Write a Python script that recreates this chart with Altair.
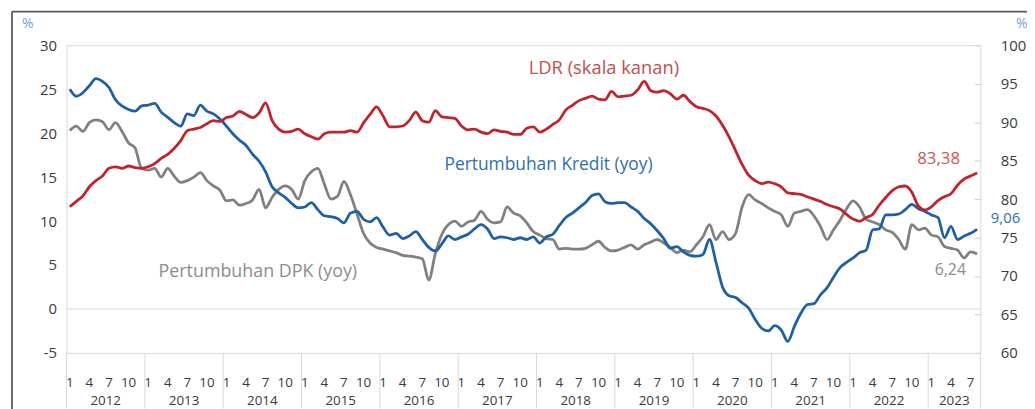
import altair as alt
import pandas as pd

# Monthly series Jan 2012 .. Aug 2023
kredit = [25.0, 24.2, 24.6, 25.4, 26.2, 25.9, 25.2, 23.8, 23.1, 22.7, 22.5, 23.1,
          23.2, 23.4, 22.4, 21.8, 21.2, 20.8, 22.2, 22.0, 23.2, 22.5, 22.2, 21.6,
          20.8, 19.9, 19.2, 18.6, 17.6, 16.8, 15.6, 13.9, 13.2, 12.7, 12.0, 11.5,
          11.6, 12.1, 11.3, 10.6, 10.5, 10.3, 9.8, 10.9, 11.1, 10.2, 9.9, 10.4,
          9.3, 8.4, 8.6, 8.0, 8.3, 8.8, 7.9, 7.0, 6.6, 7.4, 8.3, 7.9,
          8.2, 8.5, 9.1, 9.6, 9.1, 8.0, 8.2, 8.1, 7.9, 8.1, 7.9, 8.2,
          7.5, 8.2, 8.5, 9.5, 10.4, 10.9, 11.5, 12.1, 12.9, 13.1, 12.2, 12.0,
          12.1, 12.1, 11.6, 11.1, 10.3, 9.7, 8.9, 8.0, 6.9, 7.1, 6.5, 6.1,
          6.0, 6.2, 7.9, 5.3, 2.5, 1.5, 1.3, 0.7, 0.1, -1.2, -2.2, -2.5,
          -1.9, -2.4, -3.7, -2.0, -0.5, 0.5, 0.6, 1.6, 2.4, 3.6, 4.7, 5.3,
          5.8, 6.4, 6.7, 9.0, 9.1, 10.7, 10.7, 10.8, 11.3, 11.9, 11.4, 11.1,
          10.7, 10.4, 8.1, 9.4, 7.9, 8.3, 8.6, 9.06]

ldr = [79.0, 79.7, 80.4, 81.6, 82.4, 83.0, 84.0, 84.2, 84.0, 84.3, 84.1, 84.0,
       84.2, 84.6, 85.3, 85.8, 86.6, 87.6, 88.9, 89.1, 89.3, 89.8, 90.2, 90.1,
       90.6, 90.8, 91.4, 91.0, 90.6, 91.2, 92.5, 90.2, 89.1, 88.7, 88.8, 89.1,
       88.5, 88.1, 87.8, 88.5, 88.7, 88.7, 88.7, 88.9, 88.7, 89.9, 91.0, 92.0,
       90.8, 89.4, 89.4, 89.5, 90.2, 91.3, 90.2, 90.0, 91.5, 90.7, 90.6, 90.5,
       89.5, 89.0, 89.1, 88.7, 88.5, 89.0, 88.8, 88.7, 88.4, 88.4, 89.2, 89.4,
       88.7, 89.1, 89.7, 90.3, 91.6, 92.2, 92.8, 93.1, 93.4, 93.0, 92.9, 94.0,
       93.3, 93.4, 93.5, 94.2, 95.3, 94.1, 93.9, 94.1, 93.7, 93.0, 93.5, 92.7,
       92.0, 91.8, 91.5, 90.8, 89.6, 88.1, 86.3, 84.5, 83.1, 82.4, 82.0, 82.2,
       82.0, 81.6, 80.8, 80.7, 80.6, 80.3, 80.0, 79.7, 79.3, 79.0, 78.7, 78.0,
       77.4, 77.1, 77.6, 78.0, 79.2, 80.2, 81.1, 81.6, 81.7, 80.9, 79.1, 78.6,
       79.0, 79.8, 80.3, 80.7, 81.8, 82.6, 83.0, 83.38]

dpk = [20.3, 20.8, 20.2, 21.2, 21.5, 21.3, 20.4, 21.2, 20.2, 18.9, 18.3, 16.0,
       15.8, 16.0, 15.0, 16.0, 15.1, 14.4, 14.6, 15.0, 15.5, 14.6, 14.0, 13.5,
       12.3, 12.4, 11.8, 12.0, 12.4, 13.6, 11.5, 12.7, 13.6, 14.0, 13.6, 12.5,
       14.6, 15.6, 16.0, 14.2, 12.5, 12.8, 14.5, 13.0, 10.8, 8.6, 7.5, 7.0,
       6.8, 6.6, 6.4, 6.1, 6.0, 5.9, 5.7, 3.3, 6.3, 8.5, 9.6, 10.0,
       9.4, 9.9, 10.1, 11.1, 10.2, 9.8, 9.9, 11.6, 10.9, 10.6, 9.8, 8.8,
       8.4, 8.0, 7.9, 6.8, 6.9, 6.8, 6.8, 6.9, 7.3, 7.7, 7.0, 6.6,
       6.7, 7.0, 7.3, 6.8, 7.3, 7.6, 7.9, 7.5, 7.0, 6.4, 6.7, 6.5,
       7.3, 8.2, 9.6, 7.9, 8.8, 7.9, 8.6, 11.6, 13.0, 12.4, 12.0, 11.5,
       11.1, 10.7, 9.4, 10.9, 11.1, 11.3, 10.6, 9.4, 7.9, 9.0, 10.1, 11.4,
       12.3, 11.6, 10.2, 9.9, 9.6, 9.0, 8.7, 7.9, 6.8, 9.6, 9.0, 9.2,
       8.4, 8.2, 7.1, 6.9, 6.7, 5.8, 6.5, 6.24]

years = [2012, 2013, 2014, 2015, 2016, 2017, 2018, 2019, 2020, 2021, 2022, 2023]
month_ticks = [1, 4, 7, 10]
left_ticks = [-5, 0, 5, 10, 15, 20, 25, 30]
right_ticks = [60, 65, 70, 75, 80, 85, 90, 95, 100]

FONT = "Open Sans"
W, H = 921, 310
n = len(kredit)

df = pd.DataFrame({"i": list(range(n)), "kredit": kredit, "dpk": dpk, "ldr": ldr})

mdf = pd.DataFrame([
    {"i": 12 * k + m - 1, "lab": str(m)}
    for k in range(len(years)) for m in month_ticks if 12 * k + m - 1 < n
])
ydf = pd.DataFrame([
    {"i": (12 * k - 0.5 + min(12 * k + 11.5, n - 0.5)) / 2, "lab": str(y)}
    for k, y in enumerate(years)
])
sdf = pd.DataFrame({"i": [12 * k - 0.5 for k in range(len(years))] + [n - 0.5]})

xs = alt.Scale(domain=[-0.5, n - 0.5], nice=False, zero=False)
ls = alt.Scale(domain=[-5, 30], nice=False, zero=False)
rs = alt.Scale(domain=[60, 100], nice=False, zero=False)

left_axis = alt.Axis(orient="left", values=left_ticks, grid=False, ticks=False, domain=False,
                     labelPadding=10, labelFontSize=15, labelColor="#3a3a3a", labelFont=FONT,
                     labelExpr="replace(datum.label, '\u2212', '-')", title=None)
right_axis = alt.Axis(orient="right", values=right_ticks, grid=False, ticks=True, tickSize=6,
                      tickColor="#d0d0d0", offset=-6, domain=False, labelPadding=20,
                      labelFontSize=15, labelColor="#3a3a3a", labelFont=FONT, labelAlign="left",
                      title=None)

X = lambda f: alt.X(f, type="quantitative", scale=xs, axis=None)
YL = lambda f: alt.Y(f, type="quantitative", scale=ls, axis=left_axis)
YR = lambda f: alt.Y(f, type="quantitative", scale=rs, axis=right_axis)

base = alt.Chart(df)

zero = alt.Chart(pd.DataFrame({"v": [0]})).mark_rule(color="#d9d9d9", strokeWidth=1).encode(y=YL("v"))

kline = base.mark_line(color="#1f5fa3", strokeWidth=2.8, interpolate="monotone").encode(x=X("i"), y=YL("kredit"))
dline = base.mark_line(color="#808080", strokeWidth=2.8, interpolate="monotone").encode(x=X("i"), y=YL("dpk"))

def txt(label, xi, yv, color, align, size=17.5, yscale="L"):
    d = pd.DataFrame({"i": [xi], "v": [yv], "t": [label]})
    return alt.Chart(d).mark_text(align=align, baseline="middle", fontSize=size, font=FONT,
                                  color=color).encode(
        x=X("i"), y=(YL("v") if yscale == "L" else YR("v")), text="t:N")

t_kredit = txt("Pertumbuhan Kredit (yoy)", 57.4, 16.34, "#2e6fb0", "left", size=17.5)
t_dpk = txt("Pertumbuhan DPK (yoy)", 13.6, 4.15, "#8c8c8c", "left", size=18)
t_906 = txt("9,06", 141.1, 10.3, "#2e6fb0", "left", size=15)
t_624 = txt("6,24", 137.3, 4.37, "#8c8c8c", "right", size=16)

months = alt.Chart(mdf).mark_text(baseline="middle", align="center", fontSize=13.5, font=FONT,
                                  color="#3a3a3a").encode(x=X("i"), y=alt.value(340), text="lab:N")
yrs = alt.Chart(ydf).mark_text(baseline="middle", align="center", fontSize=13.5, font=FONT,
                               color="#3a3a3a").encode(x=X("i"), y=alt.value(359), text="lab:N")
seps = alt.Chart(sdf).mark_rule(color="#d9d9d9", strokeWidth=1).encode(
    x=X("i"), y=alt.value(H), y2=alt.value(H + 56))

pct_l = alt.Chart(pd.DataFrame({"t": ["%"]})).mark_text(align="left", baseline="middle", fontSize=14,
                                                          font=FONT, color="#6f9fd6").encode(
    x=alt.value(-45), y=alt.value(-21), text="t:N")
pct_r = alt.Chart(pd.DataFrame({"t": ["%"]})).mark_text(align="left", baseline="middle", fontSize=14,
                                                          font=FONT, color="#6f9fd6").encode(
    x=alt.value(957), y=alt.value(-21), text="t:N")
frame_l = alt.Chart(pd.DataFrame({"t": [0]})).mark_rule(color="#5a5a5a", strokeWidth=1.8).encode(
    x=alt.value(-55), y=alt.value(-34), y2=alt.value(H + 60))
frame_t = alt.Chart(pd.DataFrame({"t": [0]})).mark_rule(color="#5a5a5a", strokeWidth=1.8).encode(
    x=alt.value(-55), x2=alt.value(990), y=alt.value(-34))

left = alt.layer(zero, dline, kline, t_kredit, t_dpk, t_906, t_624, months, yrs, seps,
                 pct_l, pct_r, frame_l, frame_t)

rline = base.mark_line(color="#c0232e", strokeWidth=2.8, interpolate="monotone").encode(x=X("i"), y=YR("ldr"))
t_ldr = txt("LDR (skala kanan)", 70.3, 97.0, "#c0504d", "left", size=18.5, yscale="R")
t_8338 = txt("83,38", 136.4, 85.16, "#c9575a", "right", size=17, yscale="R")
right = alt.layer(rline, t_ldr, t_8338)

chart = alt.layer(left, right).resolve_scale(y="independent").properties(
    width=W, height=H,
    autosize=alt.AutoSizeParams(type="none"),
    padding={"left": 59, "top": 36, "right": 47, "bottom": 55},
).configure_view(stroke="#d9d9d9", strokeWidth=1)

chart.save("out.html", embed_options={"renderer": "svg", "actions": False})
